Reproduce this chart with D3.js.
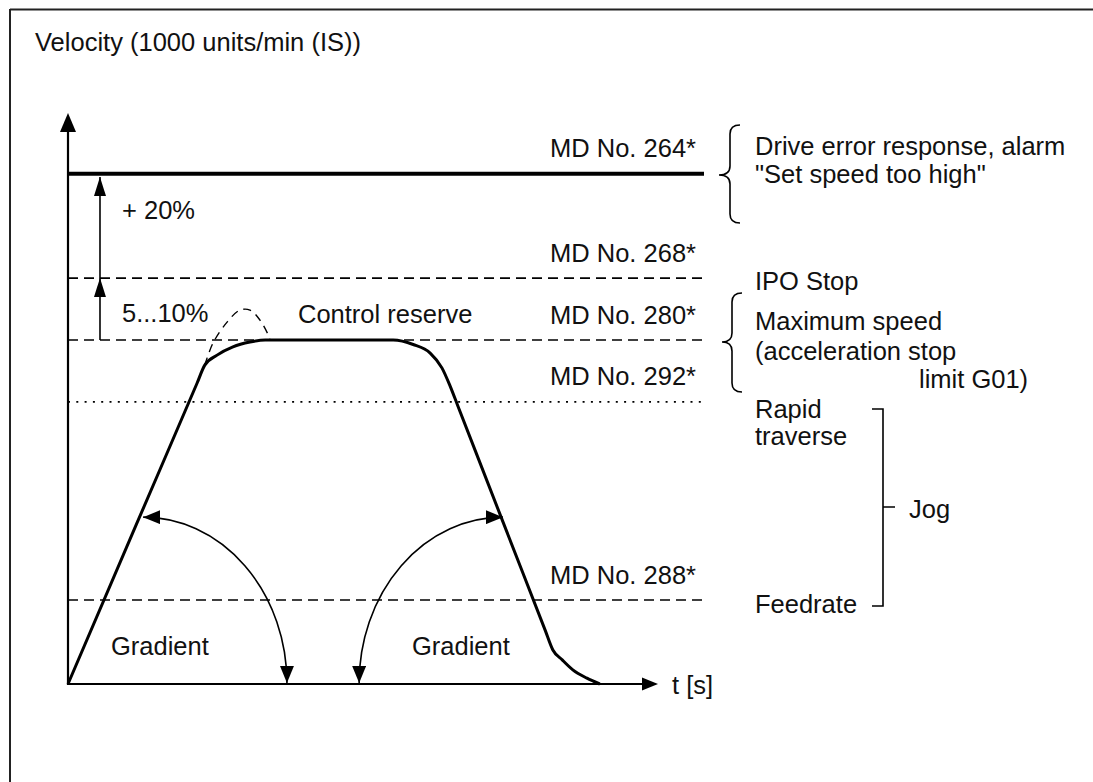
<!DOCTYPE html>
<html>
<head>
<meta charset="utf-8">
<script src="https://cdn.jsdelivr.net/npm/d3@7"></script>
<style>
  html, body { margin: 0; padding: 0; background: #fff; }
  svg { display: block; }
  text { font-family: "Liberation Sans", Arial, Helvetica, sans-serif; font-size: 25.5px; fill: #111; }
</style>
</head>
<body>
<script>
// ---------------- data ----------------
const titleText = "Velocity (1000 units/min (IS))";
const axisLabelX = "t [s]";

// velocity levels (in % of maximum speed, MD 280 = 100)
const levelLabels = ["MD No. 264*", "MD No. 268*", "MD No. 280*", "MD No. 292*", "MD No. 288*"];
const levelValues = [148.3, 118.0, 100.0, 82.0, 24.4];

// velocity profile (time units, % velocity)
const profileTime = [0, 1.17, 2.20, 2.33, 2.54, 2.81, 3.10, 3.36, 5.54, 5.88, 6.17, 6.37, 6.51, 6.64, 7.39, 8.13, 8.26, 8.42, 8.60, 8.84, 9.06];
const profileVelocity = [0, 46.6, 87.5, 92.7, 95.6, 98.0, 99.4, 100, 100, 98.7, 96.2, 91.9, 86.6, 80.9, 48.0, 15.6, 9.9, 7.0, 4.1, 1.7, 0];

// overshoot (dashed) without control reserve
const overshootTime = [2.33, 2.47, 2.71, 2.93, 3.10, 3.27, 3.41, 3.44];
const overshootVelocity = [92.7, 99.1, 105.2, 108.7, 108.7, 105.8, 101.5, 100];

// reserve arrows
const reserveLabels = ["5...10%", "+ 20%"];
const reserveFrom = [100, 118.0];
const reserveTo = [118.0, 147.4];

// gradient arcs: [start time, start velocity, end time, end velocity]
const gradientLabels = ["Gradient", "Gradient"];
const gradientArcs = [[1.28, 48.5, 3.73, 0.3], [4.96, 0.3, 7.41, 48.5]];

// right-hand annotations
const errorLines = ["Drive error response, alarm", "\"Set speed too high\""];
const speedLines = ["IPO Stop", "Maximum speed", "(acceleration stop", "limit G01)"];
const jogLines = ["Rapid", "traverse", "Jog", "Feedrate"];
const reserveText = "Control reserve";

// ---------------- drawing ----------------
const W = 1093, H = 782;
const svg = d3.select("body").append("svg").attr("width", W).attr("height", H);

const x = d3.scaleLinear().domain([0, 10]).range([68, 655]);
const y = d3.scaleLinear().domain([0, 100]).range([684, 340]);

// markers
const defs = svg.append("defs");
function marker(id, len, wid) {
  defs.append("marker")
    .attr("id", id).attr("viewBox", `0 0 ${len} ${wid}`)
    .attr("refX", len).attr("refY", wid / 2)
    .attr("markerWidth", len).attr("markerHeight", wid)
    .attr("markerUnits", "userSpaceOnUse")
    .attr("orient", "auto-start-reverse")
    .append("path").attr("d", `M0,0 L${len},${wid / 2} L0,${wid} Z`).attr("fill", "#000");
}
marker("headArc", 17, 14);
marker("headUp", 19, 12);

// frame
svg.append("line").attr("x1", 10).attr("x2", W).attr("y1", 9.5).attr("y2", 9.5)
  .attr("stroke", "#222").attr("stroke-width", 2);
svg.append("line").attr("x1", 10).attr("x2", 10).attr("y1", 9).attr("y2", H)
  .attr("stroke", "#222").attr("stroke-width", 2);

// title
svg.append("text").attr("x", 35).attr("y", 51).text(titleText);

// axes
const x0 = x(0), y0 = y(0);
svg.append("line").attr("x1", x0).attr("x2", x0).attr("y1", y0 + 1).attr("y2", 132)
  .attr("stroke", "#000").attr("stroke-width", 2.2);
svg.append("path").attr("d", `M${x0 - 8},132 L${x0},113 L${x0 + 8},132 Z`).attr("fill", "#000");
svg.append("line").attr("x1", x0 - 1).attr("x2", 642).attr("y1", y0).attr("y2", y0)
  .attr("stroke", "#000").attr("stroke-width", 2.2);
svg.append("path").attr("d", `M642,${y0 - 6.5} L658,${y0} L642,${y0 + 6.5} Z`).attr("fill", "#000");
svg.append("text").attr("x", 672).attr("y", 694).text(axisLabelX);

// level lines
const lineEnd = 704;
const levelStyle = label => {
  if (label === "MD No. 264*") return { w: 4, dash: null };
  if (label === "MD No. 292*") return { w: 1.8, dash: "2,6.3" };
  return { w: 1.6, dash: "10,6" };
};
levelLabels.forEach((lab, i) => {
  const st = levelStyle(lab);
  svg.append("line")
    .attr("x1", x0).attr("x2", lineEnd)
    .attr("y1", y(levelValues[i])).attr("y2", y(levelValues[i]))
    .attr("stroke", "#000").attr("stroke-width", st.w)
    .attr("stroke-dasharray", st.dash);
  svg.append("text").attr("x", 696).attr("y", y(levelValues[i]) - 16.5)
    .attr("text-anchor", "end").text(lab);
});

// velocity profile
const line = d3.line().x(d => x(d[0])).y(d => y(d[1]));
svg.append("path")
  .datum(d3.zip(profileTime, profileVelocity))
  .attr("d", line.curve(d3.curveMonotoneX))
  .attr("fill", "none").attr("stroke", "#000").attr("stroke-width", 3).attr("stroke-linejoin", "round");

svg.append("path")
  .attr("d", d3.line().x(d => x(d[0])).y(d => y(d[1])).curve(d3.curveCatmullRom)(d3.zip(overshootTime, overshootVelocity)))
  .attr("fill", "none").attr("stroke", "#000").attr("stroke-width", 1.4).attr("stroke-dasharray", "8,6");

svg.append("text").attr("x", 298).attr("y", 323).text(reserveText);

// reserve arrows
const arrowT = 0.545;
reserveLabels.forEach((lab, i) => {
  svg.append("line")
    .attr("x1", x(arrowT)).attr("x2", x(arrowT))
    .attr("y1", y(reserveFrom[i])).attr("y2", y(reserveTo[i]))
    .attr("stroke", "#000").attr("stroke-width", 1.6)
    .attr("marker-end", "url(#headUp)");
});
svg.append("text").attr("x", 122).attr("y", 322).text(reserveLabels[0]);
svg.append("text").attr("x", 122).attr("y", 219).text(reserveLabels[1]);

// gradient arcs
gradientArcs.forEach((a, i) => {
  const sx = x(a[0]), sy = y(a[1]), ex = x(a[2]), ey = y(a[3]);
  const rx = Math.abs(ex - sx), ry = Math.abs(ey - sy);
  svg.append("path")
    .attr("d", `M${sx},${sy} A${rx},${ry} 0 0 1 ${ex},${ey}`)
    .attr("fill", "none").attr("stroke", "#000").attr("stroke-width", 1.6)
    .attr("marker-start", "url(#headArc)").attr("marker-end", "url(#headArc)");
});
svg.append("text").attr("x", 111).attr("y", 655).text(gradientLabels[0]);
svg.append("text").attr("x", 412).attr("y", 655).text(gradientLabels[1]);

// braces
function brace(xTip, xStem, xEnd, top, mid, bottom) {
  const r = 9;
  return `M${xEnd},${top} Q${xStem},${top} ${xStem},${top + r} L${xStem},${mid - r} ` +
    `Q${xStem},${mid} ${xTip},${mid} Q${xStem},${mid} ${xStem},${mid + r} ` +
    `L${xStem},${bottom - r} Q${xStem},${bottom} ${xEnd},${bottom}`;
}
svg.append("path").attr("d", brace(719, 730, 740, 125, 175, 223))
  .attr("fill", "none").attr("stroke", "#000").attr("stroke-width", 1.6);
svg.append("path").attr("d", brace(722, 732, 742, 293, 342, 392))
  .attr("fill", "none").attr("stroke", "#000").attr("stroke-width", 1.6);

svg.append("text").attr("x", 755).attr("y", 155).text(errorLines[0]);
svg.append("text").attr("x", 755).attr("y", 183).text(errorLines[1]);
svg.append("text").attr("x", 755).attr("y", 290).text(speedLines[0]);
svg.append("text").attr("x", 755).attr("y", 330).text(speedLines[1]);
svg.append("text").attr("x", 755).attr("y", 360).text(speedLines[2]);
svg.append("text").attr("x", 919).attr("y", 388).text(speedLines[3]);

// jog bracket
svg.append("path")
  .attr("d", `M872,409 L883,409 L883,606 L872,606 M883,507 L895,507`)
  .attr("fill", "none").attr("stroke", "#000").attr("stroke-width", 1.6);
svg.append("text").attr("x", 755).attr("y", 418).text(jogLines[0]);
svg.append("text").attr("x", 755).attr("y", 445).text(jogLines[1]);
svg.append("text").attr("x", 909).attr("y", 518).text(jogLines[2]);
svg.append("text").attr("x", 755).attr("y", 613).text(jogLines[3]);
</script>
</body>
</html>
